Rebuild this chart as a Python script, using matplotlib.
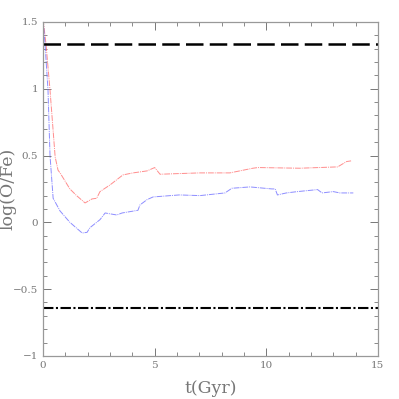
import matplotlib
matplotlib.use("Agg")
import matplotlib.pyplot as plt
from matplotlib.ticker import MultipleLocator

# red track
t_red = [0.0, 0.13, 0.31, 0.54, 0.67, 0.76, 1.2, 1.5, 1.88, 2.19, 2.4, 2.55, 3.0, 3.58, 4.03,
         4.66, 5.0, 5.24, 6.1, 7.03, 8.37, 9.4, 9.63, 11.5, 13.2, 13.6, 13.8]
y_red = [1.52, 1.335, 0.99, 0.49, 0.39, 0.37, 0.25, 0.20, 0.145, 0.175, 0.18, 0.23, 0.28, 0.355, 0.37,
         0.385, 0.41, 0.36, 0.365, 0.37, 0.37, 0.405, 0.41, 0.405, 0.415, 0.455, 0.46]

# blue track
t_blue = [0.0, 0.1, 0.22, 0.31, 0.45, 0.76, 1.2, 1.75, 1.97, 2.1, 2.55, 2.78, 3.3, 3.54, 4.25,
          4.34, 4.66, 4.93, 6.1, 7.03, 8.15, 8.46, 9.27, 10.25, 10.4, 10.5, 10.9, 11.4,
          12.3, 12.5, 13.0, 13.3, 13.9]
y_blue = [1.52, 1.3, 0.99, 0.5, 0.18, 0.085, 0.0, -0.08, -0.075, -0.04, 0.02, 0.07, 0.055, 0.07, 0.09,
          0.13, 0.17, 0.19, 0.205, 0.2, 0.22, 0.255, 0.265, 0.25, 0.25, 0.205, 0.22, 0.23,
          0.245, 0.22, 0.23, 0.22, 0.22]

upper_level = 1.335
lower_level = -0.64

grey = "#777777"
fig = plt.figure(figsize=(3.99, 3.99), dpi=100)
ax = fig.add_axes([0.108, 0.108, 0.839, 0.837])

ax.plot(t_red, y_red, color="#ff7070", lw=0.7, dashes=(6, 1, 1, 1), alpha=0.8)
ax.plot(t_blue, y_blue, color="#7070ff", lw=0.7, dashes=(6, 1, 1, 1), alpha=0.8)
ax.axhline(upper_level, color="black", lw=1.8, dashes=(7, 2.5))
ax.axhline(lower_level, color="black", lw=1.5, dashes=(5, 1.2, 1, 1.2))

ax.set_xlim(0, 15)
ax.set_ylim(-1, 1.5)
ax.xaxis.set_minor_locator(MultipleLocator(1))
ax.yaxis.set_minor_locator(MultipleLocator(0.1))
ax.set_yticks([-1, -0.5, 0, 0.5, 1, 1.5])
ax.set_yticklabels(["\u22121", "\u22120.5", "0", "0.5", "1", "1.5"])
ax.set_xticks([0, 5, 10, 15])
ax.set_xticklabels(["0", "5", "10", "15"])

ax.tick_params(which="both", direction="in", top=True, right=True, colors=grey,
               labelsize=7.5, labelcolor=grey)
ax.tick_params(which="major", length=6, width=0.7)
ax.tick_params(which="minor", length=3, width=0.6)
for s in ax.spines.values():
    s.set_color("#999999")
    s.set_linewidth(0.9)
for lab in ax.get_xticklabels() + ax.get_yticklabels():
    lab.set_family("DejaVu Serif")

ax.set_xlabel("t(Gyr)", family="DejaVu Serif", fontsize=12.5, color="#777777")
ax.set_ylabel("log(O/Fe)", family="DejaVu Serif", fontsize=12.5, color="#777777")
ax.xaxis.set_label_coords(0.5, -0.072)
ax.yaxis.set_label_coords(-0.08, 0.5)

fig.savefig("out.png", dpi=100)
